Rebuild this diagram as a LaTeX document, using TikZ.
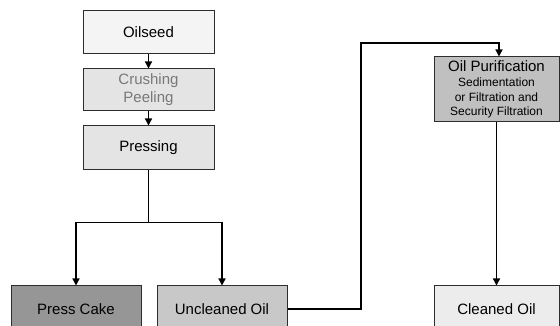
\documentclass[tikz,border=0pt]{standalone}
\usepackage{fontspec}
\setmainfont{Liberation Sans}
\usepackage{xcolor}
\usetikzlibrary{arrows.meta,calc,positioning}
\definecolor{boxline}{RGB}{45,45,45}
\definecolor{seedfill}{RGB}{244,244,244}
\definecolor{prepfill}{RGB}{228,228,228}
\definecolor{cakefill}{RGB}{150,150,150}
\definecolor{rawfill}{RGB}{200,200,200}
\definecolor{purefill}{RGB}{192,192,192}
\definecolor{cleanfill}{RGB}{236,236,236}
\newcommand{\subfont}{\fontsize{12}{14.5}\selectfont}
\tikzset{
  stage/.style={draw=boxline, line width=1pt, inner sep=0pt, align=center,
    font=\fontsize{15}{18}\selectfont, minimum width=131pt, minimum height=43pt},
  seed/.style={fill=seedfill},      % raw material
  prep/.style={fill=prepfill},      % preparation steps
  cake/.style={fill=cakefill},      % by-product
  rawoil/.style={fill=rawfill},
  pure/.style={fill=purefill, font=\subfont},
  clean/.style={fill=cleanfill},
  flow/.style={-{Triangle[length=7pt,width=7pt]}, line width=1.4pt},
  route/.style={line width=1.4pt}
}

\begin{document}
\begin{tikzpicture}[x=1pt,y=1pt]
  \clip (0,0) rectangle (560,326);
  % left column
  \node[stage,seed] (seed) at (148.5,293.5) {Oilseed};
  \node[stage,prep,text=black!53,minimum height=42pt] (crush) at (148.5,236) {Crushing\\Peeling};
  \node[stage,prep,minimum height=44pt] (press) at (148.5,178) {Pressing};
  % bottom row
  \node[stage,cake,minimum width=130pt,minimum height=46pt] (cake) at (76,17) {Press Cake};
  \node[stage,rawoil,minimum width=130pt,minimum height=46pt] (raw) at (222,17) {Uncleaned Oil};
  % right column
  \node[stage,pure,minimum width=125pt,minimum height=65pt] (pure) at (496.5,236.5)
    {{\fontsize{15}{17}\selectfont Oil Purification}\\[1pt]Sedimentation\\or Filtration and\\Security Filtration};
  \node[stage,clean,minimum width=125pt,minimum height=46pt] (clean) at (496.5,17) {Cleaned Oil};
  % connectors
  \coordinate (split) at ($(press.south)+(0,-52)$);
  \coordinate (bend) at (361,283);
  \draw[flow] (seed) -- (crush);
  \draw[flow] (crush) -- (press);
  \draw[route] (press.south) -- (split);
  \draw[flow] (split) -| (cake.north);
  \draw[flow] (split) -| (raw.north);
  \draw[flow] (raw.east) -| (bend) -| ($(pure.north)+(2.5,0)$);
  \draw[flow] (pure) -- (clean);
\end{tikzpicture}
\end{document}
